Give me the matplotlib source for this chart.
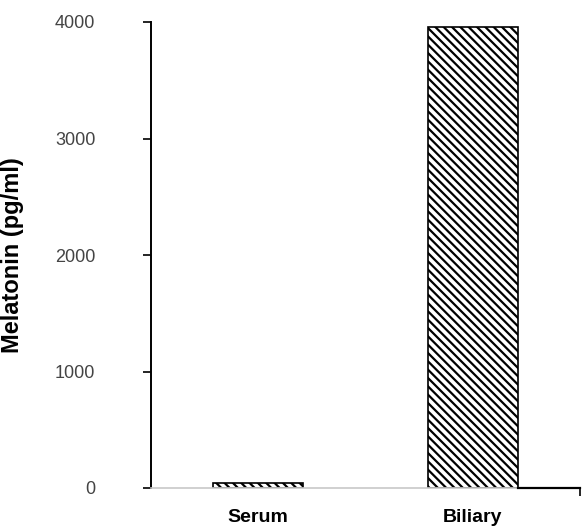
import numpy as np
import matplotlib
matplotlib.use("Agg")
from matplotlib import pyplot as plt

plt.rcParams['font.family'] = ['Liberation Sans', 'DejaVu Sans']
plt.rcParams['hatch.linewidth'] = 1.6

categories = ['Serum', 'Biliary']
melatonin = [40, 3960]
yticks = [0, 1000, 2000, 3000, 4000]

fig = plt.figure(figsize=(5.84, 5.27), dpi=100)
ax = fig.add_axes([151/584, 1 - 488/527, 429/584, 466/527])

x = np.arange(len(categories))
w = 0.42
ax.bar(x, melatonin, width=w, color='white', edgecolor='black',
       hatch='\\\\\\\\', linewidth=1.2)

ax.set_xlim(-0.5, 1.5)
ax.set_ylim(0, 4000)

# faint baseline on the left, dark one right of the big bar
ax.spines['bottom'].set_color('#c8c8c8')
ax.spines['bottom'].set_linewidth(1.2)
ax.plot([x[1] + w/2, 1.5], [0, 0], color='black', lw=1.6, clip_on=False, zorder=3)
ax.spines['top'].set_visible(False)
ax.spines['right'].set_visible(False)
ax.spines['left'].set_linewidth(1.4)

ax.set_yticks(yticks)
ax.set_yticklabels([str(v) for v in yticks])
ax.tick_params(axis='y', direction='out', length=6, width=1.2, pad=34,
               labelsize=13, labelcolor='#444444')

ax.set_xticks(x)
ax.set_xticklabels(categories, fontweight='bold', fontsize=14)
ax.tick_params(axis='x', length=0, pad=15)
ax.set_xticks([1.5], minor=True)
ax.tick_params(axis='x', which='minor', length=6, width=1.2, direction='out')

ax.set_ylabel('Melatonin (pg/ml)', fontweight='bold', fontsize=17)
ax.yaxis.set_label_coords(-0.296, 0.5)

fig.savefig('out.png', dpi=100)
